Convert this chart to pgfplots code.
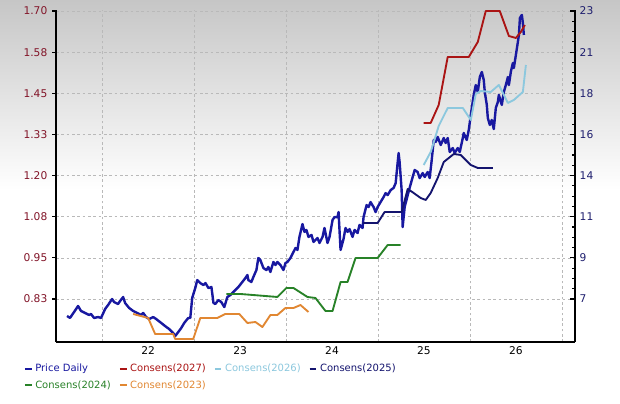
\documentclass[border=0pt]{standalone}
\usepackage{pgfplots}
\pgfplotsset{compat=1.18}
\usepackage{fontspec}
\setmainfont{DejaVu Sans}
\definecolor{pricecol}{RGB}{24,24,160}
\definecolor{cA}{RGB}{170,20,20}
\definecolor{cB}{RGB}{140,200,222}
\definecolor{cC}{RGB}{20,20,110}
\definecolor{cD}{RGB}{40,130,40}
\definecolor{cE}{RGB}{225,135,50}
\definecolor{ylabL}{RGB}{130,20,40}
\definecolor{ylabR}{RGB}{30,30,110}
\definecolor{gridc}{RGB}{185,185,185}
\definecolor{bgtop}{RGB}{198,198,198}
\begin{document}
\begin{tikzpicture}
\fill[white] (0,0) rectangle (465pt,302.25pt);
\fill[top color=bgtop, bottom color=white] (0,159.75pt) rectangle (465pt,302.25pt);
% price axis (right)
\begin{axis}[
  at={(42pt,45.75pt)}, anchor=south west,
  width=389.25pt, height=249pt, scale only axis,
  xmin=2021.499, xmax=2027.142, ymin=4.396, ymax=22.956,
  axis x line*=bottom, axis y line*=right,
  axis line style={-, line width=1.4pt, black},
  xtick={2022,2023,2024,2025,2026,2027}, xticklabels={},
  xtick style={draw=none},
  extra x ticks={2022.5,2023.5,2024.5,2025.5,2026.5},
  extra x tick labels={22,23,24,25,26},
  extra x tick style={grid=none, tick style={draw=none}},
  ytick={6.8,9.1,11.4,13.7,16.0,18.3,20.6,22.9},
  yticklabels={7,9,11,14,16,18,21,23},
  minor y tick num=3,
  ytick style={black, line width=0.8pt},
  major tick length=4pt, minor tick length=2.5pt,
  yticklabel style={text=ylabR, font=\fontsize{8}{9}\selectfont},
  xticklabel style={text=black, font=\fontsize{8}{9}\selectfont},
  /pgf/number format/assume math mode=true,
  xmajorgrids, ymajorgrids,
  grid style={gridc, line width=0.4pt, dash pattern=on 2pt off 2pt},
]
\addplot[pricecol, line width=1.8pt, line join=round] table {
2021.619 5.85
2021.651 5.74
2021.695 6.07
2021.739 6.41
2021.771 6.13
2021.815 6.02
2021.858 5.91
2021.880 5.96
2021.913 5.74
2021.957 5.79
2021.989 5.74
2022.033 6.24
2022.065 6.46
2022.109 6.80
2022.131 6.63
2022.174 6.52
2022.196 6.69
2022.229 6.91
2022.251 6.57
2022.294 6.30
2022.338 6.13
2022.381 6.02
2022.425 5.91
2022.447 6.02
2022.479 5.79
2022.512 5.68
2022.556 5.79
2022.588 5.68
2022.643 5.46
2022.697 5.24
2022.730 5.12
2022.773 4.90
2022.795 4.73
2022.828 4.95
2022.861 5.18
2022.893 5.46
2022.937 5.74
2022.959 5.74
2022.980 6.86
2023.013 7.41
2023.035 7.86
2023.068 7.69
2023.102 7.58
2023.124 7.69
2023.157 7.41
2023.189 7.47
2023.211 6.58
2023.231 6.52
2023.264 6.74
2023.296 6.63
2023.329 6.35
2023.362 6.91
2023.394 7.02
2023.427 7.19
2023.482 7.47
2023.525 7.75
2023.558 7.97
2023.580 8.14
2023.590 7.86
2023.623 7.75
2023.645 8.03
2023.678 8.42
2023.699 9.09
2023.721 8.98
2023.754 8.53
2023.787 8.42
2023.808 8.59
2023.830 8.31
2023.863 8.87
2023.885 8.70
2023.906 8.87
2023.939 8.70
2023.972 8.42
2023.994 8.81
2024.015 8.87
2024.048 9.09
2024.081 9.43
2024.103 9.65
2024.124 9.54
2024.146 10.27
2024.179 10.99
2024.201 10.55
2024.222 10.66
2024.244 10.27
2024.277 10.38
2024.299 9.99
2024.342 10.21
2024.364 9.93
2024.397 10.27
2024.418 10.77
2024.451 9.93
2024.473 10.27
2024.506 11.22
2024.527 11.38
2024.560 11.38
2024.571 11.66
2024.593 9.54
2024.625 10.15
2024.647 10.77
2024.669 10.55
2024.691 10.71
2024.723 10.27
2024.745 10.66
2024.778 10.49
2024.799 10.94
2024.832 10.77
2024.843 11.38
2024.876 12.05
2024.898 11.94
2024.919 12.22
2024.952 11.94
2024.974 11.66
2024.996 11.94
2025.028 12.22
2025.061 12.50
2025.083 12.72
2025.105 12.61
2025.138 12.89
2025.170 13.01
2025.192 13.28
2025.224 14.96
2025.235 14.46
2025.257 12.89
2025.268 10.82
2025.290 11.94
2025.323 12.61
2025.344 13.01
2025.377 13.62
2025.399 14.01
2025.431 13.90
2025.453 13.56
2025.486 13.84
2025.508 13.62
2025.540 13.90
2025.562 13.56
2025.584 14.57
2025.606 15.69
2025.628 15.58
2025.649 15.86
2025.682 15.41
2025.715 15.80
2025.736 15.52
2025.758 15.80
2025.780 15.02
2025.813 15.24
2025.834 14.96
2025.867 15.24
2025.889 15.02
2025.922 15.80
2025.932 16.08
2025.965 15.69
2025.987 16.25
2026.009 17.09
2026.041 18.21
2026.063 18.76
2026.085 18.37
2026.107 19.21
2026.129 19.49
2026.150 19.04
2026.161 18.37
2026.183 17.65
2026.194 16.92
2026.216 16.53
2026.237 16.81
2026.259 16.30
2026.281 17.48
2026.303 17.81
2026.314 18.21
2026.346 17.65
2026.368 18.37
2026.390 18.76
2026.412 19.21
2026.423 18.76
2026.444 19.49
2026.466 19.99
2026.477 19.71
2026.499 20.44
2026.521 21.17
2026.532 21.56
2026.543 22.51
2026.564 22.68
2026.575 22.23
2026.586 21.56
};
\end{axis}
% consensus axis (left)
\begin{axis}[
  at={(42pt,45.75pt)}, anchor=south west,
  width=389.25pt, height=249pt, scale only axis,
  xmin=2021.499, xmax=2027.142, ymin=0.6943, ymax=1.7030,
  axis x line=none, axis y line*=left,
  axis line style={-, line width=1.4pt, black},
  ytick={0.825,0.95,1.075,1.2,1.325,1.45,1.575,1.70},
  yticklabels={0.83,0.95,1.08,1.20,1.33,1.45,1.58,1.70},
  ytick style={black, line width=0.8pt},
  tick align=outside, major tick length=3pt,
  yticklabel style={text=ylabL, font=\fontsize{8}{9}\selectfont},
  /pgf/number format/assume math mode=true,
  legend columns=4,
  legend style={at={(-0.07,-0.05)}, anchor=north west, draw=none, fill=none,
    font=\fontsize{7.5}{9}\selectfont, row sep=1pt,
    /tikz/every even column/.append style={column sep=4pt}},
  legend cell align=left,
  legend image code/.code={\draw[#1, line width=1.5pt] (0pt,0pt) -- (5pt,0pt);},
]
\addlegendimage{pricecol}
\addlegendentry{\textcolor{pricecol}{Price Daily}}
\addplot[cA, line width=1.4pt, line join=round] table {
2025.497 1.3597
2025.573 1.3597
2025.660 1.4144
2025.758 1.5602
2025.987 1.5602
2026.085 1.6058
2026.172 1.7000
2026.324 1.7000
2026.423 1.6240
2026.499 1.6180
2026.553 1.6362
2026.597 1.6574
};
\addlegendentry{\textcolor{cA}{Consens(2027)}}
\addplot[cB, line width=1.4pt, line join=round] table {
2025.497 1.2321
2025.573 1.2716
2025.660 1.3506
2025.758 1.4053
2025.922 1.4053
2026.009 1.3688
2026.063 1.4478
2026.118 1.4569
2026.226 1.4539
2026.314 1.4752
2026.412 1.4205
2026.477 1.4296
2026.575 1.4539
2026.608 1.5359
};
\addlegendentry{\textcolor{cB}{Consens(2026)}}
\addplot[cC, line width=1.4pt, line join=round] table {
2024.832 1.0559
2024.996 1.0559
2025.072 1.0893
2025.257 1.0893
2025.323 1.1592
2025.388 1.1470
2025.464 1.1318
2025.519 1.1258
2025.573 1.1470
2025.649 1.1926
2025.715 1.2412
2025.824 1.2655
2025.900 1.2625
2026.009 1.2321
2026.085 1.2230
2026.248 1.2230
};
\addlegendentry{\textcolor{cC}{Consens(2025)}}
\addplot[cD, line width=1.4pt, line join=round] table {
2023.351 0.8402
2023.503 0.8402
2023.906 0.8311
2024.004 0.8584
2024.081 0.8584
2024.233 0.8311
2024.320 0.8280
2024.429 0.7885
2024.506 0.7885
2024.593 0.8766
2024.669 0.8766
2024.756 0.9495
2024.996 0.9495
2025.105 0.9890
2025.246 0.9890
};
\addlegendentry{\textcolor{cD}{Consens(2024)}}
\addplot[cE, line width=1.4pt, line join=round] table {
2022.338 0.7794
2022.501 0.7673
2022.577 0.7186
2022.773 0.7186
2022.795 0.7034
2022.991 0.7034
2023.068 0.7673
2023.253 0.7673
2023.340 0.7794
2023.492 0.7794
2023.580 0.7521
2023.667 0.7551
2023.743 0.7399
2023.830 0.7764
2023.906 0.7764
2023.993 0.7976
2024.081 0.7976
2024.157 0.8067
2024.244 0.7855
};
\addlegendentry{\textcolor{cE}{Consens(2023)}}
\end{axis}
\end{tikzpicture}
\end{document}
